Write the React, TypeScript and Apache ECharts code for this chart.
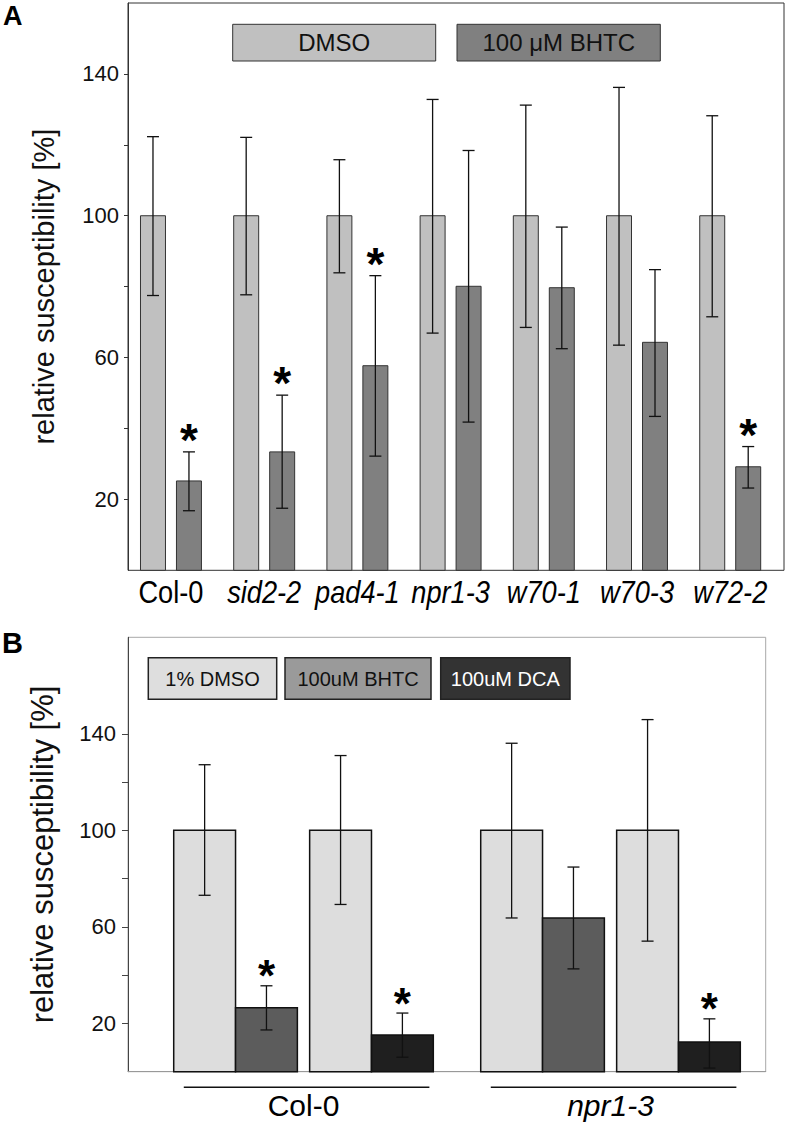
import React, { useEffect, useRef } from 'react';
import * as echarts from 'echarts';

// ---------- Panel A data ----------
const categoriesA = ['Col-0', 'sid2-2', 'pad4-1', 'npr1-3', 'w70-1', 'w70-3', 'w72-2'];
const italicA = [false, true, true, true, true, true, true];
const dmsoA = [100, 100, 100, 100, 100, 100, 100];
const dmsoHighA = [122.3, 122.1, 115.8, 132.8, 131.2, 136.2, 128.2];
const dmsoLowA = [77.5, 77.7, 83.9, 66.9, 68.5, 63.5, 71.5];
const bhtcA = [25.2, 33.4, 57.7, 80.1, 79.7, 64.3, 29.2];
const bhtcHighA = [33.4, 49.4, 83.1, 118.4, 96.8, 84.8, 34.9];
const bhtcLowA = [16.8, 17.5, 32.2, 41.8, 62.5, 43.4, 23.2];
const bhtcSigA = [1, 1, 1, 0, 0, 0, 1];
const ticksA = [20, 40, 60, 80, 100, 120, 140];
const labelsA = [20, 60, 100, 140];

// ---------- Panel B data ----------
const groupsB = ['Col-0', 'npr1-3'];
const italicB = [false, true];
const dmso1B = [100, 100];
const dmso1HighB = [127.2, 136.1];
const dmso1LowB = [73.1, 63.7];
const bhtcB = [26.5, 63.7];
const bhtcHighB = [35.6, 84.8];
const bhtcLowB = [17.3, 42.6];
const bhtcSigB = [1, 0];
const dmso2B = [100, 100];
const dmso2HighB = [131.0, 145.9];
const dmso2LowB = [69.3, 54.1];
const dcaB = [15.2, 12.3];
const dcaHighB = [24.3, 21.9];
const dcaLowB = [6.0, 1.5];
const dcaSigB = [1, 1];
const ticksB = [20, 40, 60, 80, 100, 120, 140];
const labelsB = [20, 60, 100, 140];

const FONT = 'Liberation Sans, Arial, Helvetica, sans-serif';

function rows(vals: number[], lo: number[], hi: number[], sig?: number[]) {
  return vals.map((v, i) => [i, v, lo[i], hi[i], sig ? sig[i] : 0]);
}

function makeRenderer(offset: number, halfWidth: number, fill: string, stroke: string, barLw: number, cap: number, starSize: number, starGap: number) {
  return (params: any, api: any) => {
    const idx = api.value(0) as number;
    const v = api.value(1) as number;
    const lo = api.value(2) as number;
    const hi = api.value(3) as number;
    const sig = api.value(4) as number;
    const unit = api.size([1, 0])[0];
    const base = api.coord([idx, 0]);
    const cx = base[0] + offset * unit;
    const w = halfWidth * unit;
    const yv = api.coord([idx, v])[1];
    const yl = api.coord([idx, lo])[1];
    const yh = api.coord([idx, hi])[1];
    const children: any[] = [
      {
        type: 'rect',
        shape: { x: cx - w, y: yv, width: 2 * w, height: base[1] - yv },
        style: { fill, stroke, lineWidth: barLw },
      },
      {
        type: 'line',
        shape: { x1: cx, y1: yl, x2: cx, y2: yh },
        style: { stroke: '#111', lineWidth: 1.3 },
      },
      {
        type: 'line',
        shape: { x1: cx - cap, y1: yh, x2: cx + cap, y2: yh },
        style: { stroke: '#111', lineWidth: 1.3 },
      },
      {
        type: 'line',
        shape: { x1: cx - cap, y1: yl, x2: cx + cap, y2: yl },
        style: { stroke: '#111', lineWidth: 1.3 },
      },
    ];
    if (sig) {
      children.push({
        type: 'text',
        x: cx,
        y: yh - starGap,
        style: {
          text: '*',
          fontSize: starSize,
          fontWeight: 'bold',
          fontFamily: FONT,
          fill: '#000',
          align: 'center',
          verticalAlign: 'middle',
        },
      });
    }
    return { type: 'group', children };
  };
}

export default function App() {
  const ref = useRef<HTMLDivElement>(null);

  useEffect(() => {
    if (!ref.current) return;
    const chart = echarts.init(ref.current, undefined, { renderer: 'svg' });

    // layout constants (axis units)
    const A_OFF = 0.193;
    const A_HALF = 0.134;
    const B_PAIR = 0.2214;
    const B_BAR = 0.1007;

    const option: any = {
      animation: false,
      backgroundColor: '#fff',
      grid: [
        { left: 128, top: 3, width: 656, height: 567.3, show: true, borderColor: '#333', borderWidth: 1, backgroundColor: 'transparent' },
        { left: 128, top: 637.3, width: 637.7, height: 434.4, show: true, borderColor: '#a8a8a8', borderWidth: 1, backgroundColor: 'transparent' },
      ],
      xAxis: [
        {
          gridIndex: 0,
          type: 'value',
          min: -0.461,
          max: 6.577,
          axisLine: { show: false },
          axisTick: { show: false },
          splitLine: { show: false },
          axisLabel: { show: false },
        },
        {
          gridIndex: 1,
          type: 'value',
          min: -0.5717,
          max: 1.5055,
          axisLine: { show: true, onZero: false, lineStyle: { color: '#999', width: 1 } },
          axisTick: { show: false },
          splitLine: { show: false },
          axisLabel: {
            customValues: groupsB.map((_, i) => i),
            margin: 19,
            formatter: (val: number) => {
              const i = Math.round(val);
              return italicB[i] ? `{i|${groupsB[i]}}` : `{n|${groupsB[i]}}`;
            },
            rich: {
              i: { fontStyle: 'italic', fontSize: 30, fontFamily: FONT, color: '#000' },
              n: { fontSize: 30, fontFamily: FONT, color: '#000' },
            },
          },
        },
      ],
      yAxis: [
        {
          gridIndex: 0,
          type: 'value',
          min: 0,
          max: 160,
          axisLine: { show: true, onZero: false, lineStyle: { color: '#333', width: 1 } },
          axisTick: { show: true, customValues: ticksA, length: 4, lineStyle: { color: '#333' } },
          axisLabel: { customValues: labelsA, margin: 9, fontSize: 22, fontFamily: FONT, color: '#111' },
          splitLine: { show: false },
          name: 'relative susceptibility [%]',
          nameLocation: 'middle',
          nameGap: 70,
          nameTextStyle: { fontSize: 29, fontFamily: FONT, color: '#111' },
        },
        {
          gridIndex: 1,
          type: 'value',
          min: 0,
          max: 180,
          axisLine: { show: true, onZero: false, lineStyle: { color: '#444', width: 1 } },
          axisTick: { show: true, customValues: ticksB, length: 6, lineStyle: { color: '#444' } },
          axisLabel: { customValues: labelsB, margin: 12, fontSize: 22, fontFamily: FONT, color: '#111' },
          splitLine: { show: false },
          name: 'relative susceptibility [%]',
          nameLocation: 'middle',
          nameGap: 70,
          nameTextStyle: { fontSize: 31, fontFamily: FONT, color: '#111' },
        },
      ],
      series: [
        {
          type: 'custom', name: 'DMSO', xAxisIndex: 0, yAxisIndex: 0,
          renderItem: makeRenderer(-A_OFF, A_HALF, '#c0c0c0', '#333', 1, 6, 46, 12),
          data: rows(dmsoA, dmsoLowA, dmsoHighA),
        },
        {
          type: 'custom', name: '100 μM BHTC', xAxisIndex: 0, yAxisIndex: 0,
          renderItem: makeRenderer(A_OFF, A_HALF, '#808080', '#333', 1, 6, 46, 12),
          data: rows(bhtcA, bhtcLowA, bhtcHighA, bhtcSigA),
        },
        {
          type: 'custom', name: 'category labels', xAxisIndex: 0, yAxisIndex: 0, clip: false, silent: true,
          renderItem: (params: any, api: any) => {
            const i = api.value(0) as number;
            const p = api.coord([i, 0]);
            return {
              type: 'text',
              x: p[0],
              y: p[1] + 21,
              scaleX: 0.85,
              style: {
                text: categoriesA[i],
                fontSize: 32,
                fontStyle: italicA[i] ? 'italic' : 'normal',
                fontFamily: FONT,
                fill: '#000',
                align: 'center',
                verticalAlign: 'middle',
              },
            };
          },
          data: categoriesA.map((_, i) => [i]),
        },
        {
          type: 'custom', name: '1% DMSO (a)', xAxisIndex: 1, yAxisIndex: 1,
          renderItem: makeRenderer(-B_PAIR - B_BAR, B_BAR, '#dddddd', '#111', 1.5, 6, 44, 10),
          data: rows(dmso1B, dmso1LowB, dmso1HighB),
        },
        {
          type: 'custom', name: '100uM BHTC', xAxisIndex: 1, yAxisIndex: 1,
          renderItem: makeRenderer(-B_PAIR + B_BAR, B_BAR, '#5c5c5c', '#111', 1.5, 6, 44, 10),
          data: rows(bhtcB, bhtcLowB, bhtcHighB, bhtcSigB),
        },
        {
          type: 'custom', name: '1% DMSO (b)', xAxisIndex: 1, yAxisIndex: 1,
          renderItem: makeRenderer(B_PAIR - B_BAR, B_BAR, '#dddddd', '#111', 1.5, 6, 44, 10),
          data: rows(dmso2B, dmso2LowB, dmso2HighB),
        },
        {
          type: 'custom', name: '100uM DCA', xAxisIndex: 1, yAxisIndex: 1,
          renderItem: makeRenderer(B_PAIR + B_BAR, B_BAR, '#1f1f1f', '#111', 1.5, 6, 44, 10),
          data: rows(dcaB, dcaLowB, dcaHighB, dcaSigB),
        },
        {
          type: 'custom', name: 'group lines', xAxisIndex: 1, yAxisIndex: 1, clip: false, silent: true,
          renderItem: (params: any, api: any) => {
            const g = api.value(0) as number;
            const p1 = api.coord([g - 0.39, 0]);
            const p2 = api.coord([g + 0.41, 0]);
            return {
              type: 'line',
              shape: { x1: p1[0], y1: p1[1] + 15.6, x2: p2[0], y2: p2[1] + 15.6 },
              style: { stroke: '#111', lineWidth: 1.5 },
            };
          },
          data: groupsB.map((_, i) => [i]),
        },
      ],
      graphic: [
        { type: 'text', left: 3, top: 2, style: { text: 'A', fontSize: 27, fontWeight: 'bold', fontFamily: FONT, fill: '#000' } },
        { type: 'text', left: 2, top: 628, style: { text: 'B', fontSize: 29, fontWeight: 'bold', fontFamily: FONT, fill: '#000' } },
        // legend A
        { type: 'rect', shape: { x: 232.7, y: 24.3, width: 203, height: 36.7 }, style: { fill: '#c0c0c0', stroke: '#333', lineWidth: 1 } },
        { type: 'text', x: 334.2, y: 42.7, style: { text: 'DMSO', fontSize: 24, fontFamily: FONT, fill: '#111', align: 'center', verticalAlign: 'middle' } },
        { type: 'rect', shape: { x: 457, y: 24.3, width: 203.3, height: 36.7 }, style: { fill: '#808080', stroke: '#333', lineWidth: 1 } },
        { type: 'text', x: 558.7, y: 42.7, style: { text: '100 μM BHTC', fontSize: 24, fontFamily: FONT, fill: '#111', align: 'center', verticalAlign: 'middle' } },
        // legend B
        { type: 'rect', shape: { x: 148.3, y: 657.7, width: 128.4, height: 41.6 }, style: { fill: '#dedede', stroke: '#222', lineWidth: 1.5 } },
        { type: 'text', x: 212.5, y: 678.5, style: { text: '1% DMSO', fontSize: 20, fontFamily: FONT, fill: '#111', align: 'center', verticalAlign: 'middle' } },
        { type: 'rect', shape: { x: 285, y: 657.7, width: 146, height: 41.6 }, style: { fill: '#9a9a9a', stroke: '#222', lineWidth: 1.5 } },
        { type: 'text', x: 358, y: 678.5, style: { text: '100uM BHTC', fontSize: 20, fontFamily: FONT, fill: '#111', align: 'center', verticalAlign: 'middle' } },
        { type: 'rect', shape: { x: 440.7, y: 657.7, width: 129.3, height: 41.6 }, style: { fill: '#333333', stroke: '#222', lineWidth: 1.5 } },
        { type: 'text', x: 505.3, y: 678.5, style: { text: '100uM DCA', fontSize: 20, fontFamily: FONT, fill: '#fff', align: 'center', verticalAlign: 'middle' } },
      ],
    };

    chart.setOption(option);
    return () => chart.dispose();
  }, []);

  return <div ref={ref} style={{ position: 'absolute', left: 0, top: 0, width: 789, height: 1126 }} />;
}
